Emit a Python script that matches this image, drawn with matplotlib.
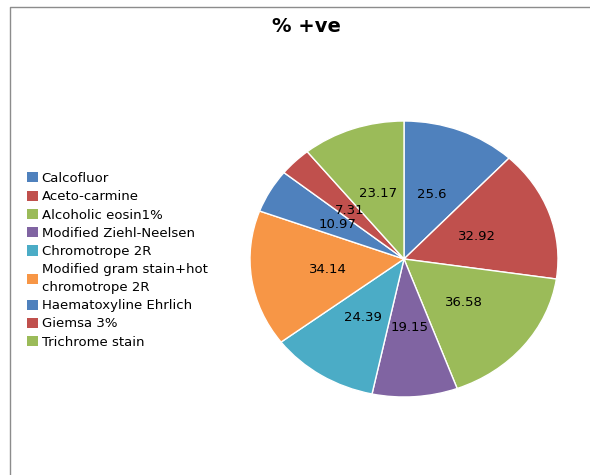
import matplotlib
matplotlib.use("Agg")
import matplotlib.pyplot as plt
from matplotlib.patches import Patch
from matplotlib.lines import Line2D

# data
stains = ["Calcofluor", "Aceto-carmine", "Alcoholic eosin1%", "Modified Ziehl-Neelsen",
          "Chromotrope 2R", "Modified gram stain+hot\nchromotrope 2R",
          "Haematoxyline Ehrlich", "Giemsa 3%", "Trichrome stain"]
pct_positive = [25.6, 32.92, 36.58, 19.15, 24.39, 34.14, 10.97, 7.31, 23.17]
value_labels = ["25.6", "32.92", "36.58", "19.15", "24.39", "34.14", "10.97", "7.31", "23.17"]

colours = ["#4F81BD", "#C0504D", "#9BBB59", "#8064A2", "#4BACC6",
           "#F79646", "#4F81BD", "#C0504D", "#9BBB59"]

W, H = 590, 475
fig = plt.figure(figsize=(W / 100, H / 100), dpi=100)

# pie box in pixels (left, top, right, bottom) -> slightly squashed ellipse like Excel
pl, pt, pr, pb = 250, 121, 558, 397
ax = fig.add_axes([pl / W, 1 - pb / H, (pr - pl) / W, (pb - pt) / H])

wedges, texts = ax.pie(pct_positive, labels=value_labels, colors=colours,
                       startangle=90, counterclock=False, labeldistance=0.5,
                       wedgeprops=dict(edgecolor="white", linewidth=1.0),
                       textprops=dict(fontsize=9.5, color="black"))
for t in texts:
    t.set_horizontalalignment("center")
    t.set_verticalalignment("center")
ax.set_aspect("auto")
ax.set_xlim(-1, 1)
ax.set_ylim(-1, 1)
ax.axis("off")

fig.text(306 / W, 1 - 27 / H, "% +ve", ha="center", va="center",
         fontsize=14, fontweight="bold")

handles = [Patch(facecolor=c, edgecolor="none") for c in colours]
leg = fig.legend(handles, stains, loc="upper left",
                 bbox_to_anchor=(27 / W, 1 - 172 / H), frameon=False,
                 fontsize=9.5, handlelength=0.8, handleheight=0.8,
                 handletextpad=0.3, labelspacing=0.4, borderaxespad=0, borderpad=0)
for t in leg.get_texts():
    t.set_linespacing(1.45)

# chart border (top and left edges visible in the picture)
fig.add_artist(Line2D([9.5 / W, 9.5 / W, 1], [0, 1 - 7 / H, 1 - 7 / H],
                      transform=fig.transFigure, color="#8c8c8c", linewidth=1))

fig.savefig("out.png", dpi=100, facecolor="white")
